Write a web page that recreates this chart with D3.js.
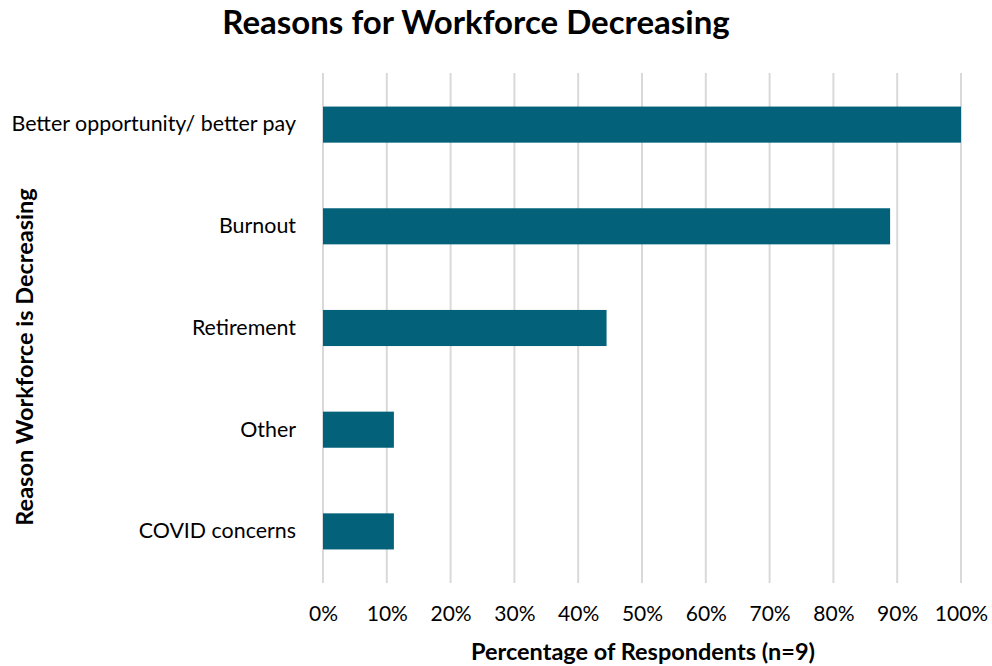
<!DOCTYPE html>
<html>
<head>
<meta charset="utf-8">
<script src="https://cdn.jsdelivr.net/npm/d3@7"></script>
<style>
  html, body { margin: 0; padding: 0; background: #fff; }
  text { font-family: Lato, "Open Sans", sans-serif; fill: #000; }
</style>
</head>
<body>
<svg id="chart" width="992" height="666"></svg>
<script>
// Survey responses (n = 9), share of respondents naming each reason
const categories = ["Better opportunity/ better pay", "Burnout", "Retirement", "Other", "COVID concerns"];
const respondents = [9, 8, 4, 1, 1];
const totalRespondents = 9;
const percentages = respondents.map(r => r / totalRespondents * 100);
const tickValues = [0, 10, 20, 30, 40, 50, 60, 70, 80, 90, 100];

const svg = d3.select("#chart");
const margin = { left: 323, right: 31, top: 73, bottom: 83 };
const width = 992, height = 666;

const x = d3.scaleLinear().domain([0, 100]).range([margin.left, width - margin.right]);
const y = d3.scaleBand().domain(categories).range([margin.top, height - margin.bottom]).paddingInner(0.645).paddingOuter(0.33);

// vertical gridlines
svg.append("g")
  .selectAll("line")
  .data(tickValues)
  .join("line")
  .attr("x1", d => x(d)).attr("x2", d => x(d))
  .attr("y1", margin.top).attr("y2", height - margin.bottom)
  .attr("stroke", "#d9d9d9")
  .attr("stroke-width", 2);

// bars
svg.append("g")
  .selectAll("rect")
  .data(categories)
  .join("rect")
  .attr("x", x(0))
  .attr("y", d => y(d))
  .attr("width", (d, i) => x(percentages[i]) - x(0))
  .attr("height", y.bandwidth())
  .attr("fill", "#03627a");

// x axis tick labels
const xAxis = d3.axisBottom(x).tickValues(tickValues).tickFormat(d => d + "%").tickSize(0).tickPadding(0);
const gx = svg.append("g").attr("transform", `translate(0, ${height - margin.bottom + 23})`).call(xAxis);
gx.select(".domain").remove();
gx.selectAll("text").attr("font-size", 21).attr("font-family", "Lato, sans-serif").attr("fill", "#000");

// y axis category labels
const yAxis = d3.axisLeft(y).tickSize(0).tickPadding(0);
const gy = svg.append("g").attr("transform", `translate(${margin.left - 27}, 0)`).call(yAxis);
gy.select(".domain").remove();
gy.selectAll("text").attr("font-size", 21.4).attr("font-family", "Lato, sans-serif").attr("fill", "#000");

// titles
svg.append("text")
  .attr("x", 476).attr("y", 34)
  .attr("text-anchor", "middle")
  .attr("font-size", 33).attr("font-weight", "bold")
  .text("Reasons for Workforce Decreasing");

svg.append("text")
  .attr("x", 643).attr("y", 660)
  .attr("text-anchor", "middle")
  .attr("font-size", 23.5).attr("font-weight", "bold")
  .text("Percentage of Respondents (n=9)");

svg.append("text")
  .attr("transform", "translate(33, 357) rotate(-90)")
  .attr("text-anchor", "middle")
  .attr("font-size", 23.5).attr("font-weight", "bold")
  .text("Reason Workforce is Decreasing");
</script>
</body>
</html>
